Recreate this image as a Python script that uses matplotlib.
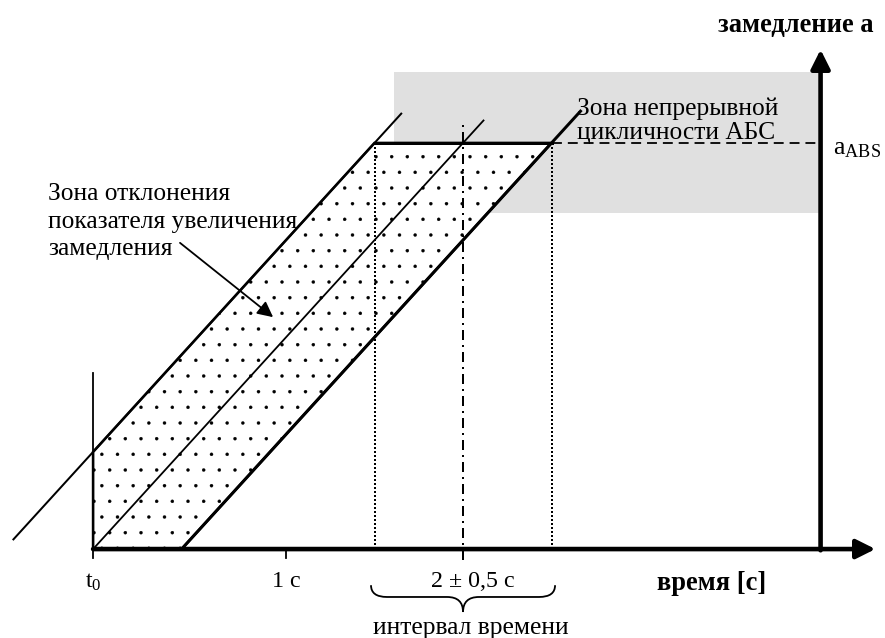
import numpy as np
import matplotlib
matplotlib.use("Agg")
import matplotlib.pyplot as plt
from matplotlib.patches import Polygon, Rectangle, PathPatch
from matplotlib.path import Path

plt.rcParams['font.family'] = ['Liberation Serif', 'DejaVu Serif']
plt.rcParams['mathtext.fontset'] = 'custom'
plt.rcParams['mathtext.rm'] = 'Liberation Serif'
plt.rcParams['mathtext.it'] = 'Liberation Serif:italic'
plt.rcParams['hatch.color'] = '#8a8a8a'
plt.rcParams['hatch.linewidth'] = 0.2

# ---------------- data (time in s, deceleration relative to a_ABS) ----------------
t0 = -0.09                      # start of braking
a_abs = 1.0                     # ABS threshold deceleration
rise_time = 2.09                # time from 0 to a_ABS along each line
t_reach = [1.5, 2.0, 2.5]       # times at which the three lines reach a_ABS
line_a_start = [0.022, 0.0, 0.0]
line_a_end = [1.074, 1.057, 1.081]
zone_t = [1.61, 4.02]           # continuous ABS cycling zone (grey)
zone_a = [0.828, 1.175]
t_axis_end = 4.33
a_axis_end = 1.23
t_yaxis = 4.02
tick_t = [t0, 1.0, 2.056]
tick_labels = [r'$\mathrm{t_0}$', '1 с', '2 ± 0,5 с']

DPI = 94
def pt(px):
    """pixel size -> points"""
    return px * 72.0 / DPI

fig = plt.figure(figsize=(885 / DPI, 638 / DPI), dpi=DPI)
ax = fig.add_axes([0, 0, 1, 1])
ax.set_xlim(-0.616, 4.384)
ax.set_ylim(-0.219, 1.352)
ax.axis('off')

# grey zone
ax.add_patch(Rectangle((zone_t[0], zone_a[0]), zone_t[1] - zone_t[0], zone_a[1] - zone_a[0],
                       facecolor='#e0e0e0', edgecolor='none', zorder=1))

def t_of(i, a):
    return t_reach[i] - rise_time * (a_abs - a)

# dotted deviation zone
t_up0 = t_reach[0] - rise_time * a_abs
a_cross = (t0 - t_up0) / rise_time * a_abs
poly = [(t0, 0.0), (t0, a_cross), (t_reach[0], a_abs), (t_reach[2], a_abs), (t_of(2, 0.0), 0.0)]
ax.add_patch(Polygon(poly, closed=True, facecolor='white', edgecolor='black', lw=pt(2.6),
                     hatch='.', zorder=2))

# three parallel lines
lws = [pt(2.0), pt(1.8), pt(3.0)]
for i in range(3):
    a_vals = np.array([line_a_start[i], line_a_end[i]])
    ax.plot([t_of(i, a_vals[0]), t_of(i, a_vals[1])], a_vals, color='black', lw=lws[i],
            solid_capstyle='butt', zorder=4)

# top edge of zone at a_ABS
ax.plot([t_reach[0], t_reach[2]], [a_abs, a_abs], color='black', lw=pt(3.0), zorder=4)
# dashed a_ABS line to the axis
ax.plot([t_reach[2], t_yaxis], [a_abs, a_abs], color='black', lw=pt(1.8),
        linestyle=(0, (5.5, 3.3)), zorder=4)
# dotted verticals
for t in (t_reach[0], t_reach[2]):
    ax.plot([t, t], [0, a_abs], color='black', lw=pt(2.0), linestyle=(0, (1, 1)), zorder=4)
# dash-dot vertical at 2 s
ax.plot([t_reach[1], t_reach[1]], [-0.027, 1.05], color='black', lw=pt(2.0),
        linestyle=(0, (5, 2.5, 1, 2.5)), zorder=4)
# t0 vertical line
ax.plot([t0, t0], [-0.022, 0.433], color='black', lw=pt(1.8), zorder=4)
# tick at 1 s
ax.plot([1.0, 1.0], [-0.022, 0.0], color='black', lw=pt(1.8), zorder=4)

# axes with arrows
arrow_kw = dict(arrowstyle='-|>,head_length=0.4,head_width=0.2', color='black', lw=pt(4.6),
                mutation_scale=pt(40), shrinkA=0, shrinkB=0)
ax.annotate('', xy=(t_axis_end, 0.0), xytext=(t0, 0.0), arrowprops=arrow_kw, zorder=5)
ax.annotate('', xy=(t_yaxis, a_axis_end), xytext=(t_yaxis, -0.003), arrowprops=arrow_kw, zorder=5)

# labels
fs = pt(25.5)
fs_tick = pt(24)
for t, lab in zip(tick_t, tick_labels):
    ax.text(t, -0.081, lab, ha='center', va='center', fontsize=fs_tick)
ax.text(3.407, -0.084, 'время [с]', ha='center', va='center', fontsize=pt(26.5), fontweight='bold')
ax.text(3.881, 1.29, 'замедление a', ha='center', va='center', fontsize=pt(26.5), fontweight='bold')
ax.text(4.09, 0.985, r'$\mathrm{a_{ABS}}$', ha='left', va='center', fontsize=pt(26))
ax.text(2.644, 1.055, 'Зона непрерывной\nцикличности АБС', ha='left', va='center',
        fontsize=fs, linespacing=1.15)
ax.text(-0.345, 0.806, 'Зона отклонения\nпоказателя увеличения\nзамедления', ha='left',
        va='center', fontsize=fs, linespacing=1.32)
ax.text(2.045, -0.195, 'интервал времени', ha='center', va='center', fontsize=fs)

# annotation arrow
ax.annotate('', xy=(0.927, 0.571), xytext=(0.401, 0.754),
            arrowprops=dict(arrowstyle='-|>,head_length=0.5,head_width=0.25', color='black',
                            lw=pt(1.8), mutation_scale=pt(26), shrinkA=0, shrinkB=0), zorder=5)

# brace under the time interval
L, R, C = t_reach[0] - 0.02, t_reach[2] + 0.02, t_reach[1]
top, mid, tip, dx = -0.089, -0.118, -0.155, 0.09
verts = [(L, top), (L, mid), (L + dx, mid), (C - dx, mid), (C, mid), (C, tip),
         (C, mid), (C + dx, mid), (R - dx, mid), (R, mid), (R, top)]
codes = [Path.MOVETO, Path.CURVE3, Path.CURVE3, Path.LINETO, Path.CURVE3, Path.CURVE3,
         Path.CURVE3, Path.CURVE3, Path.LINETO, Path.CURVE3, Path.CURVE3]
ax.add_patch(PathPatch(Path(verts, codes), facecolor='none', edgecolor='black', lw=pt(1.8)))

fig.savefig('out.png', dpi=DPI)
